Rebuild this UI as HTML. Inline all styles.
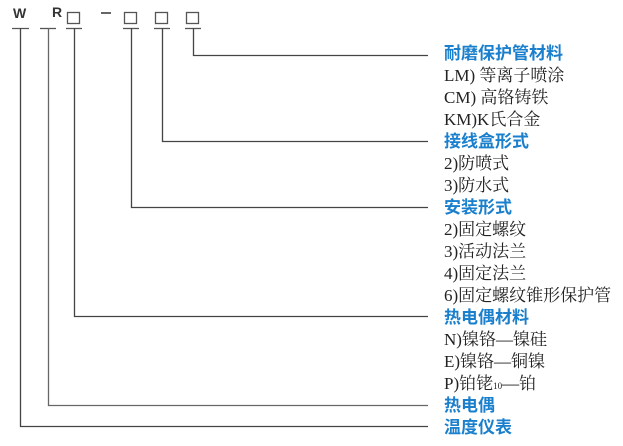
<!DOCTYPE html>
<html><head><meta charset="utf-8"><style>
body{margin:0;width:623px;height:446px;background:#fff;position:relative;overflow:hidden}
.t{position:absolute;left:444px;font-size:17px;line-height:22px;white-space:nowrap;height:22px}
.b{color:#1a7fcc;font-family:"Liberation Sans","Noto Sans CJK SC",sans-serif;font-weight:bold}
.k{color:#222;font-family:"Liberation Serif","Noto Serif CJK SC",serif}
.l{position:absolute;font-family:"Liberation Sans",sans-serif;font-weight:bold;font-size:14px;color:#333}
</style></head><body>
<svg width="623" height="446" style="position:absolute;left:0;top:0" fill="none" stroke-width="1.3">
<g stroke="#555">
<rect x="67.5" y="12.5" width="12" height="11"/>
<rect x="124.5" y="12.5" width="12" height="11"/>
<rect x="155.5" y="12.5" width="12" height="11"/>
<rect x="186.5" y="12.5" width="12" height="11"/>
<line x1="101" y1="13" x2="111" y2="13" stroke="#333" stroke-width="1.5"/>
<line x1="12" y1="28.5" x2="29" y2="28.5"/>
<line x1="40" y1="28.5" x2="56" y2="28.5"/>
<line x1="66" y1="28.5" x2="82" y2="28.5"/>
<line x1="123" y1="28.5" x2="139" y2="28.5"/>
<line x1="154" y1="28.5" x2="170" y2="28.5"/>
<line x1="185" y1="28.5" x2="201" y2="28.5"/>
</g>
<g stroke="#444">
<polyline points="193.5,28 193.5,55.5 428,55.5"/>
<polyline points="162.5,28 162.5,141.5 428,141.5"/>
<polyline points="131.5,28 131.5,207.5 428,207.5"/>
<polyline points="74.5,28 74.5,316.5 428,316.5"/>
<polyline points="48.5,28 48.5,405.5 428,405.5" stroke="#666"/>
<polyline points="20.5,28 20.5,426.5 428,426.5"/>
</g>
</svg>
<div class="l" style="left:13px;top:5px;color:#333">W</div>
<div class="l" style="left:52px;top:4px;color:#333">R</div>
<div class="t b" style="top:43px">耐磨保护管材料</div>
<div class="t k" style="top:65px">LM) 等离子喷涂</div>
<div class="t k" style="top:87px">CM) 高铬铸铁</div>
<div class="t k" style="top:109px">KM)K氏合金</div>
<div class="t b" style="top:131px">接线盒形式</div>
<div class="t k" style="top:153px">2)防喷式</div>
<div class="t k" style="top:175px">3)防水式</div>
<div class="t b" style="top:197px">安装形式</div>
<div class="t k" style="top:219px">2)固定螺纹</div>
<div class="t k" style="top:241px">3)活动法兰</div>
<div class="t k" style="top:263px">4)固定法兰</div>
<div class="t k" style="top:285px">6)固定螺纹锥形保护管</div>
<div class="t b" style="top:307px">热电偶材料</div>
<div class="t k" style="top:329px">N)镍铬—镍硅</div>
<div class="t k" style="top:351px">E)镍铬—铜镍</div>
<div class="t k" style="top:373px">P)铂铑<span style="font-size:9px">10</span>—铂</div>
<div class="t b" style="top:395px">热电偶</div>
<div class="t b" style="top:417px">温度仪表</div>
</body></html>
